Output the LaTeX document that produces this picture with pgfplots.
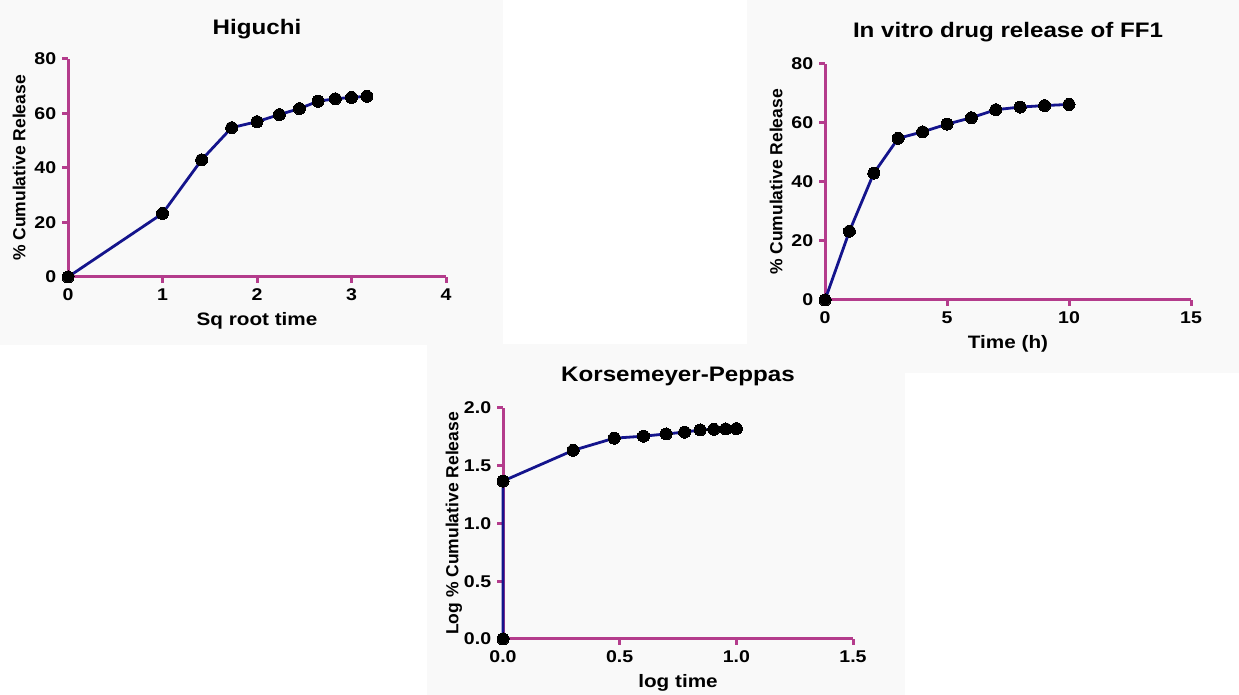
\documentclass[border=0pt]{standalone}
\usepackage{pgfplots}
\pgfplotsset{compat=1.18}
\usepackage{fontspec}
\setmainfont{Liberation Sans}[FakeStretch=1.15]
\newfontfamily\ylabfont{Liberation Sans}
\definecolor{axpurple}{RGB}{180,60,140}
\definecolor{navyline}{RGB}{20,20,140}
\definecolor{panelbg}{RGB}{249,249,249}

\pgfplotstableread{
x y
0 0
1 23.3
1.41421 43.0
1.73205 54.8
2 57.0
2.23607 59.6
2.44949 61.8
2.64575 64.5
2.82843 65.4
3 65.9
3.16228 66.3
}\higuchi
\pgfplotstableread{
x y
0 0
1 23.3
2 43.0
3 54.8
4 57.0
5 59.6
6 61.8
7 64.5
8 65.4
9 65.9
10 66.3
}\release
\pgfplotstableread{
x y
0 0
0 1.3674
0.30103 1.6335
0.47712 1.7388
0.60206 1.7559
0.69897 1.7753
0.77815 1.7910
0.84510 1.8096
0.90309 1.8156
0.95424 1.8189
1 1.8215
}\peppas

\pgfplotsset{
  panel/.style={
    scale only axis,
    every axis/.append style={line width=3pt},
    axis x line=bottom, axis y line=left,
    axis line style={draw=axpurple, line width=3pt, -},
    tick style={draw=axpurple, line width=3pt},
    major tick length=6pt,
    tick align=outside,
    /pgf/number format/assume math mode=true,
    tick label style={font=\fontsize{17}{19}\selectfont\bfseries},
    xticklabel style={yshift=-1pt},
    yticklabel style={xshift=-1pt},
    title style={font=\fontsize{21}{24}\selectfont\bfseries, at={(0.5,1)}, anchor=center, yshift=26pt},
    xlabel style={font=\fontsize{18}{20}\selectfont\bfseries, at={(0.5,0)}, anchor=center, yshift=-44pt},
    ylabel style={font=\ylabfont\fontsize{17.5}{20}\selectfont\bfseries, at={(0,0.5)}, anchor=center, yshift=49pt},
    clip=false,
  },
  dataline/.style={navyline, line width=2.8pt, mark=*, mark size=6pt,
    mark options={fill=black, draw=black, line width=0pt}},
}

\begin{document}
\begin{tikzpicture}[line width=3pt]
\fill[white] (0pt,0pt) rectangle (1239pt,695pt);
\fill[panelbg] (0pt,350pt) rectangle (503pt,695pt);
\fill[panelbg] (747pt,322pt) rectangle (1239pt,695pt);
\fill[panelbg] (427pt,0pt) rectangle (905pt,351pt);

\begin{axis}[panel, at={(68pt,418pt)}, anchor=south west,
  width=378pt, height=218pt,
  xmin=0, xmax=4, ymin=0, ymax=80,
  xtick={0,1,2,3,4}, ytick={0,20,40,60,80},
  title style={yshift=-2pt},
  title={Higuchi}, xlabel={Sq root time}, ylabel={\% Cumulative Release}]
\addplot[dataline] table[x=x,y=y] {\higuchi};
\end{axis}

\begin{axis}[panel, at={(825pt,395pt)}, anchor=south west,
  width=366pt, height=236pt,
  xmin=0, xmax=15, ymin=0, ymax=80,
  xtick={0,5,10,15}, ytick={0,20,40,60,80},
  title={In vitro drug release of FF1}, xlabel={Time (h)}, ylabel={\% Cumulative Release}]
\addplot[dataline] table[x=x,y=y] {\release};
\end{axis}

\begin{axis}[panel, at={(503pt,56pt)}, anchor=south west,
  width=350pt, height=231pt,
  xmin=0, xmax=1.5, ymin=0, ymax=2,
  xtick={0,0.5,1,1.5}, ytick={0,0.5,1,1.5,2},
  xticklabel style={/pgf/number format/.cd, fixed, fixed zerofill, precision=1},
  yticklabel style={/pgf/number format/.cd, fixed, fixed zerofill, precision=1},
  title={Korsemeyer-Peppas}, xlabel={log time}, ylabel={Log \% Cumulative Release}]
\addplot[dataline] table[x=x,y=y] {\peppas};
\end{axis}
\end{tikzpicture}
\end{document}
